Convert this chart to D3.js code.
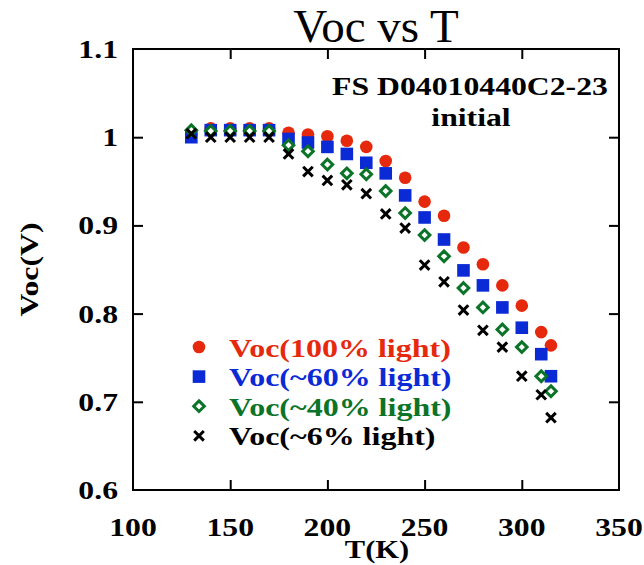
<!DOCTYPE html>
<html>
<head>
<meta charset="utf-8">
<script src="https://cdn.jsdelivr.net/npm/d3@7"></script>
<style>
  html, body { margin: 0; padding: 0; background: #fff; }
  svg { display: block; }
  text { font-family: "Liberation Serif", "Times New Roman", serif; }
</style>
</head>
<body>
<svg id="chart" width="644" height="565"></svg>
<script>
// Temperature (K)
const temps = [130, 140, 150, 160, 170, 180, 190, 200, 210, 220, 230, 240, 250, 260, 270, 280, 290, 300, 310, 315];
// Open-circuit voltage (V) at each illumination level
const voc100 = [1.003, 1.010, 1.010, 1.010, 1.010, 1.005, 1.003, 1.001, 0.996, 0.989, 0.973, 0.954, 0.927, 0.911, 0.875, 0.856, 0.832, 0.809, 0.779, 0.764];
const voc60  = [1.000, 1.008, 1.008, 1.008, 1.008, 0.998, 0.994, 0.989, 0.981, 0.971, 0.959, 0.934, 0.909, 0.884, 0.849, 0.832, 0.807, 0.784, 0.754, 0.729];
const voc40  = [1.008, 1.007, 1.007, 1.007, 1.007, 0.991, 0.984, 0.969, 0.959, 0.958, 0.939, 0.914, 0.889, 0.865, 0.829, 0.807, 0.782, 0.762, 0.729, 0.712];
const voc6   = [1.004, 1.000, 1.000, 1.000, 1.000, 0.981, 0.961, 0.951, 0.946, 0.936, 0.913, 0.897, 0.855, 0.836, 0.804, 0.781, 0.762, 0.729, 0.708, 0.682];

const seriesNames = ["Voc(100% light)", "Voc(~60% light)", "Voc(~40% light)", "Voc(~6% light)"];
const seriesColors = ["#e6290c", "#0a2ad6", "#0b7428", "#000000"];
const seriesShapes = ["circle", "square", "diamond", "cross"];

const xTicks = [100, 150, 200, 250, 300, 350];
const yTicks = [0.6, 0.7, 0.8, 0.9, 1.0, 1.1];

const series = [voc100, voc60, voc40, voc6].map((vals, i) => ({
  name: seriesNames[i], color: seriesColors[i], shape: seriesShapes[i],
  points: temps.map((t, j) => ({ t, v: vals[j] }))
}));

const svg = d3.select("#chart");
const plot = { left: 133, right: 619, top: 49, bottom: 490 };

const x = d3.scaleLinear().domain([100, 350]).range([plot.left, plot.right]);
const y = d3.scaleLinear().domain([0.6, 1.1]).range([plot.bottom, plot.top]);

// Bold labels use a horizontally widened serif face
const WIDE = 1.22;
function label(parent, px, py, str, opts = {}) {
  const { size = 26, anchor = "middle", sx = WIDE, weight = "bold", fill = "#000", rotate = 0 } = opts;
  const g = parent.append("g")
    .attr("transform", `translate(${px},${py}) rotate(${rotate}) scale(${sx},1)`);
  g.append("text")
    .attr("text-anchor", anchor)
    .attr("font-size", size).attr("font-weight", weight)
    .attr("fill", fill)
    .text(str);
  return g;
}

// Title
label(svg, (plot.left + plot.right) / 2, 42, "Voc vs T", { size: 47, weight: "normal", sx: 1 });

// Axes with inward ticks; labels drawn separately
const tickLen = 10;
const axisStyle = g => {
  g.select(".domain").remove();
  g.selectAll(".tick line").attr("stroke", "#000").attr("stroke-width", 2);
  g.selectAll(".tick text").remove();
};
const innerX = xTicks.slice(1, -1);
const innerY = yTicks.slice(1, -1);

svg.append("g").attr("transform", `translate(0,${plot.bottom})`)
  .call(d3.axisBottom(x).tickValues(innerX).tickSize(-tickLen)).call(axisStyle);
svg.append("g").attr("transform", `translate(0,${plot.top})`)
  .call(d3.axisTop(x).tickValues(innerX).tickSize(-tickLen)).call(axisStyle);
svg.append("g").attr("transform", `translate(${plot.left},0)`)
  .call(d3.axisLeft(y).tickValues(innerY).tickSize(-tickLen)).call(axisStyle);
svg.append("g").attr("transform", `translate(${plot.right},0)`)
  .call(d3.axisRight(y).tickValues(innerY).tickSize(-tickLen)).call(axisStyle);

// Frame
svg.append("rect")
  .attr("x", plot.left).attr("y", plot.top)
  .attr("width", plot.right - plot.left).attr("height", plot.bottom - plot.top)
  .attr("fill", "none").attr("stroke", "#000").attr("stroke-width", 2);

// Tick labels
const xLab = svg.append("g");
xTicks.forEach(d => label(xLab, x(d), 536, String(d)));
const yLab = svg.append("g");
yTicks.forEach(d => label(yLab, 118, y(d) + 9, String(+d.toFixed(1)), { anchor: "end" }));

// Axis titles
label(svg, 377, 558, "T(K)", { size: 25 });
label(svg, 38, (plot.top + plot.bottom) / 2, "Voc(V)", { rotate: -90 });

// Sample annotation
label(svg, 470, 95, "FS D04010440C2-23");
label(svg, 471, 126, "initial");

// Marker drawing
function drawMarker(sel, shape, color) {
  if (shape === "circle") {
    sel.append("circle").attr("r", 6.3).attr("fill", color);
  } else if (shape === "square") {
    sel.append("rect").attr("x", -6.3).attr("y", -6.3).attr("width", 12.6).attr("height", 12.6).attr("fill", color);
  } else if (shape === "diamond") {
    sel.append("path").attr("d", "M0,-5.3L5.3,0L0,5.3L-5.3,0Z")
      .attr("fill", "#fff").attr("stroke", color).attr("stroke-width", 3);
  } else {
    sel.append("path").attr("d", "M-4.8,-4.8L4.8,4.8M-4.8,4.8L4.8,-4.8")
      .attr("stroke", color).attr("stroke-width", 3).attr("fill", "none");
  }
}

// Data points
series.forEach(s => {
  svg.append("g").selectAll("g").data(s.points).join("g")
    .attr("transform", d => `translate(${x(d.t)},${y(d.v)})`)
    .each(function () { drawMarker(d3.select(this), s.shape, s.color); });
});

// Legend
const legend = svg.append("g");
series.forEach((s, i) => {
  const ly = 347 + i * 29.6;
  const g = legend.append("g").attr("transform", `translate(199,${ly})`);
  drawMarker(g, s.shape, s.color);
  label(legend, 229, ly + 9.5, s.name, { anchor: "start", fill: s.color, size: 25, sx: 1.28 });
});
</script>
</body>
</html>
